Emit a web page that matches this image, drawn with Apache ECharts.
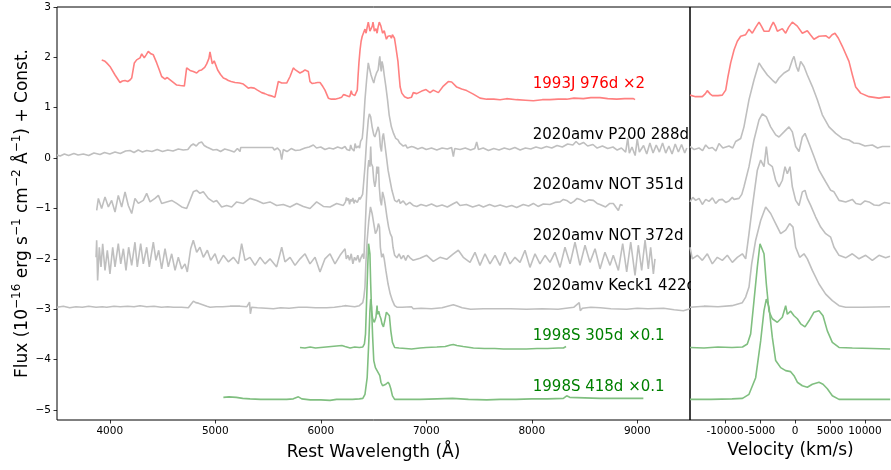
<!DOCTYPE html>
<html>
<head>
<meta charset="utf-8">
<script src="https://cdn.jsdelivr.net/npm/echarts@6/dist/echarts.min.js"></script>
<style>html,body{margin:0;padding:0;background:#fff}#c{width:891px;height:470px}</style>
</head>
<body>
<div id="c"></div>
<script>
// ---- tick labels ----
const waveTicks = [4000, 5000, 6000, 7000, 8000, 9000];
const velTicks = [-10000, -5000, 0, 5000, 10000];
const fluxTicks = [-5, -4, -3, -2, -1, 0, 1, 2, 3];

// ---- spectrum labels ----
const specNames = ['1993J 976d ×2', '2020amv P200 288d', '2020amv NOT 351d', '2020amv NOT 372d', '2020amv Keck1 422d', '1998S 305d ×0.1', '1998S 418d ×0.1'];
const labelWave = [8000, 8000, 8000, 8000, 8000, 8000, 8000];
const labelFlux = [1.5, 0.5, -0.5, -1.5, -2.5, -3.5, -4.5];

// ---- SN 1993J 976d x2 ----
const sn93J_blue = [[3924,1.95],[3950,1.93],[3971,1.89],[4002,1.82],[4050,1.65],[4097,1.50],[4120,1.53],[4145,1.54],[4170,1.52],[4192,1.55],[4208,1.59],[4233,1.89],[4255,1.95],[4270,1.92],[4287,1.99],[4303,2.07],[4327,1.99],[4345,2.05],[4365,2.12],[4390,2.07],[4413,2.05],[4445,1.89],[4470,1.75],[4492,1.62],[4524,1.57],[4545,1.60],[4562,1.63],[4593,1.52],[4635,1.45],[4670,1.44],[4707,1.43],[4729,1.79],[4761,1.74],[4775,1.76],[4792,1.72],[4824,1.69],[4850,1.74],[4871,1.75],[4900,1.80],[4919,1.87],[4940,1.98],[4950,2.11],[4962,1.98],[4972,1.87],[4990,1.93],[5004,1.92],[5023,1.75],[5050,1.66],[5077,1.59],[5100,1.57],[5124,1.54],[5150,1.52],[5187,1.50],[5230,1.49],[5266,1.47],[5290,1.43],[5313,1.39],[5340,1.40],[5370,1.39],[5400,1.35],[5440,1.30],[5470,1.28],[5503,1.25],[5540,1.23],[5566,1.21],[5598,1.52],[5615,1.50],[5630,1.49],[5677,1.49],[5709,1.62],[5740,1.79],[5760,1.75],[5772,1.72],[5803,1.69],[5830,1.72],[5851,1.75],[5882,1.72],[5898,1.52],[5920,1.48],[5946,1.49],[5970,1.50],[5993,1.50],[6020,1.42],[6040,1.35],[6072,1.19],[6100,1.17],[6135,1.17],[6170,1.19],[6199,1.21],[6215,1.26],[6230,1.27]];
const sn93J_vel = [[-15000,1.25],[-14200,1.22],[-13240,1.22],[-12800,1.28],[-12530,1.34],[-12100,1.27],[-11810,1.24],[-11000,1.24],[-10390,1.25],[-9900,1.35],[-9600,1.60],[-9190,1.89],[-8700,2.15],[-8240,2.32],[-7760,2.42],[-7050,2.45],[-6570,2.56],[-6100,2.48],[-5600,2.60],[-5140,2.70],[-4800,2.62],[-4430,2.52],[-3710,2.52],[-3400,2.62],[-3100,2.70],[-2800,2.62],[-2520,2.52],[-1810,2.57],[-1330,2.48],[-900,2.60],[-380,2.70],[330,2.62],[1050,2.48],[1760,2.53],[2200,2.45],[2710,2.36],[3430,2.42],[4380,2.43],[4860,2.38],[5300,2.45],[5710,2.48],[6200,2.38],[6760,2.22],[7710,1.92],[8200,1.65],[8670,1.41],[9380,1.29],[10570,1.22],[12000,1.19],[12800,1.21],[13600,1.21]];
const sn93J_red = [[6877,1.30],[6910,1.28],[6957,1.33],[6998,1.36],[7036,1.30],[7067,1.35],[7115,1.30],[7162,1.43],[7209,1.52],[7241,1.51],[7289,1.41],[7336,1.37],[7383,1.34],[7446,1.27],[7510,1.19],[7573,1.17],[7640,1.17],[7700,1.16],[7762,1.18],[7857,1.16],[7940,1.15],[8015,1.14],[8100,1.16],[8173,1.16],[8250,1.17],[8331,1.17],[8400,1.19],[8489,1.18],[8560,1.20],[8647,1.20],[8720,1.18],[8805,1.17],[8880,1.18],[8963,1.18],[8979,1.16]];

// ---- 2020amv P200 288d ----
const p200_blue = [[3500,0.06],[3530,0.04],[3570,0.08],[3610,0.05],[3660,0.09],[3700,0.06],[3750,0.08],[3800,0.05],[3850,0.10],[3908,0.07],[3950,0.11],[4000,0.08],[4050,0.12],[4100,0.09],[4150,0.14],[4192,0.15],[4230,0.11],[4270,0.16],[4310,0.12],[4350,0.15],[4400,0.13],[4450,0.17],[4500,0.13],[4550,0.16],[4600,0.14],[4650,0.18],[4697,0.16],[4740,0.17],[4770,0.25],[4792,0.28],[4820,0.24],[4845,0.30],[4871,0.32],[4895,0.25],[4919,0.22],[4950,0.19],[4980,0.16],[5014,0.17],[5050,0.13],[5090,0.18],[5140,0.15],[5180,0.12],[5210,0.19],[5235,0.13],[5241,0.21],[5544,0.21],[5560,0.16],[5590,0.20],[5615,0.14],[5630,-0.03],[5645,0.17],[5680,0.13],[5720,0.19],[5760,0.15],[5803,0.16],[5850,0.20],[5890,0.22],[5930,0.26],[5960,0.20],[6000,0.22],[6040,0.17],[6080,0.20],[6119,0.18],[6160,0.22],[6200,0.19],[6230,0.23]];
const p200_vel = [[-15000,0.23],[-14400,0.17],[-13710,0.20],[-13200,0.15],[-12760,0.26],[-12300,0.19],[-11810,0.21],[-11300,0.14],[-10860,0.29],[-10300,0.20],[-9430,0.24],[-8900,0.20],[-8480,0.33],[-7760,0.39],[-7290,0.62],[-6570,1.16],[-5860,1.55],[-5140,1.89],[-4670,1.79],[-3950,1.65],[-3240,1.55],[-2760,1.49],[-2290,1.59],[-1570,1.69],[-860,1.75],[-380,1.95],[-140,2.02],[190,1.82],[480,1.72],[810,1.92],[1290,1.82],[1760,1.65],[2480,1.42],[3190,1.16],[3900,0.86],[4860,0.62],[5810,0.49],[6760,0.39],[7710,0.36],[8400,0.30],[9140,0.29],[10000,0.24],[11050,0.26],[11800,0.20],[12480,0.23],[13600,0.23]];
const p200_red = [[6880,0.22],[6920,0.18],[6960,0.21],[7000,0.17],[7050,0.20],[7100,0.16],[7150,0.20],[7200,0.18],[7240,0.21],[7257,0.03],[7270,0.19],[7320,0.17],[7370,0.20],[7420,0.16],[7460,0.19],[7478,0.32],[7495,0.17],[7540,0.20],[7590,0.15],[7640,0.19],[7690,0.16],[7740,0.20],[7790,0.17],[7840,0.21],[7890,0.16],[7940,0.20],[7990,0.18],[8040,0.22],[8090,0.19],[8140,0.23],[8190,0.20],[8240,0.25],[8290,0.22],[8340,0.28],[8390,0.26],[8420,0.33],[8450,0.27],[8490,0.31],[8530,0.24],[8580,0.27],[8620,0.20],[8670,0.24],[8720,0.19],[8770,0.22],[8810,0.16],[8850,0.20],[8890,0.12],[8910,0.40],[8925,0.10],[8950,0.22],[8980,0.05],[9000,0.38],[9020,0.12],[9060,0.25],[9090,0.08],[9120,0.30],[9150,0.10],[9180,0.26],[9210,0.12],[9240,0.30],[9270,0.10],[9300,0.24],[9330,0.08],[9360,0.28],[9390,0.12],[9420,0.27],[9450,0.10],[9470,0.20]];

// ---- 2020amv NOT 351d ----
const not351_blue = [[3876,-1.04],[3892,-0.80],[3923,-1.00],[3955,-0.77],[3987,-0.97],[4018,-0.84],[4050,-1.07],[4081,-0.74],[4113,-0.97],[4145,-0.67],[4176,-0.94],[4208,-1.10],[4239,-0.80],[4271,-0.90],[4318,-0.84],[4350,-0.70],[4382,-0.87],[4429,-0.80],[4461,-0.74],[4492,-0.90],[4539,-0.87],[4587,-0.84],[4634,-0.90],[4682,-0.97],[4729,-1.00],[4760,-0.84],[4792,-0.67],[4824,-0.64],[4855,-0.70],[4887,-0.67],[4934,-0.80],[4982,-0.87],[5013,-0.84],[5061,-0.97],[5108,-0.94],[5156,-0.97],[5203,-0.87],[5266,-0.90],[5329,-0.80],[5393,-0.84],[5456,-0.90],[5519,-0.87],[5582,-0.94],[5645,-0.92],[5709,-0.97],[5772,-0.90],[5835,-0.96],[5898,-1.00],[5961,-0.87],[6025,-0.96],[6088,-0.97],[6151,-0.90],[6214,-0.94]];
const not351_vel = [[-15000,-0.87],[-14600,-0.78],[-14190,-0.84],[-13700,-0.80],[-13240,-0.92],[-12750,-0.82],[-12290,-0.86],[-11800,-0.79],[-11330,-0.90],[-10850,-0.83],[-10380,-0.82],[-9900,-0.88],[-9430,-0.85],[-8950,-0.78],[-8710,-0.82],[-8000,-0.80],[-7600,-0.72],[-7290,-0.57],[-6570,-0.17],[-5860,0.36],[-5140,0.76],[-4670,0.88],[-4100,0.82],[-3480,0.62],[-2760,0.46],[-2290,0.42],[-1570,0.52],[-860,0.62],[-380,0.52],[95,0.23],[570,0.13],[1050,0.42],[1430,0.49],[2000,0.29],[2710,0.03],[3430,-0.24],[4380,-0.47],[5100,-0.64],[5570,-0.67],[6290,-0.84],[7240,-0.87],[8190,-0.82],[8700,-0.90],[9380,-0.92],[10000,-0.85],[10570,-0.87],[11300,-0.93],[12000,-0.94],[12800,-0.88],[13600,-0.90]];
const not351_red = [[6877,-0.94],[6910,-0.96],[6950,-0.92],[7000,-0.95],[7050,-0.91],[7100,-0.96],[7150,-0.93],[7200,-0.97],[7260,-0.90],[7288,-0.87],[7320,-0.94],[7380,-0.92],[7440,-0.97],[7500,-0.93],[7541,-0.97],[7600,-0.92],[7650,-0.96],[7700,-0.93],[7760,-0.97],[7810,-0.94],[7857,-0.98],[7920,-0.92],[7970,-0.95],[8015,-0.90],[8060,-0.96],[8110,-0.91],[8173,-0.92],[8220,-0.88],[8268,-0.87],[8300,-0.82],[8331,-0.84],[8370,-0.90],[8400,-0.86],[8430,-0.80],[8457,-0.82],[8500,-0.87],[8540,-0.83],[8584,-0.84],[8620,-0.90],[8647,-0.92],[8700,-0.97],[8740,-0.90],[8773,-0.90],[8800,-0.98],[8821,-1.04],[8840,-0.92],[8862,-0.94]];

// ---- 2020amv NOT 372d ----
const not372_blue = [[3870,-1.97],[3876,-1.63],[3885,-2.43],[3901,-1.77],[3917,-2.16],[3933,-1.70],[3955,-2.23],[3977,-1.83],[4002,-2.30],[4028,-1.77],[4050,-2.16],[4081,-1.70],[4104,-2.10],[4129,-1.80],[4154,-2.23],[4179,-1.77],[4208,-2.13],[4239,-1.67],[4261,-2.16],[4293,-1.70],[4318,-2.10],[4350,-1.77],[4375,-2.16],[4413,-1.67],[4438,-2.03],[4464,-1.83],[4492,-2.20],[4524,-1.80],[4555,-2.16],[4587,-1.90],[4619,-2.23],[4650,-1.97],[4682,-2.20],[4713,-2.10],[4735,-2.26],[4767,-1.80],[4792,-1.63],[4824,-1.87],[4855,-1.77],[4887,-1.97],[4925,-1.83],[4957,-2.03],[4998,-1.90],[5029,-2.10],[5077,-1.93],[5124,-2.06],[5172,-1.97],[5219,-2.10],[5250,-1.70],[5282,-2.03],[5329,-1.97],[5377,-2.13],[5424,-1.97],[5472,-2.10],[5519,-2.00],[5582,-2.16],[5630,-1.77],[5661,-2.06],[5709,-1.97],[5756,-2.13],[5804,-2.00],[5851,-1.90],[5898,-2.10],[5946,-1.97],[5993,-2.26],[6040,-2.00],[6088,-1.90],[6135,-2.10],[6183,-1.93],[6230,-1.80]];
const not372_vel = [[-15000,-1.77],[-14667,-2.00],[-13952,-1.93],[-13238,-2.03],[-12524,-1.90],[-11810,-2.10],[-11095,-1.97],[-10381,-2.03],[-9667,-1.93],[-8952,-2.07],[-8238,-1.97],[-7524,-1.90],[-7048,-2.00],[-6571,-1.50],[-6095,-0.97],[-5381,-0.24],[-4905,-0.04],[-4429,-0.17],[-4095,0.23],[-3810,-0.11],[-3238,-0.17],[-2762,-0.44],[-2286,-0.57],[-1810,-0.44],[-1429,-0.17],[-1095,-0.31],[-714,-0.17],[-381,-0.57],[95,-0.84],[571,-0.94],[1048,-0.67],[1429,-0.64],[1762,-0.80],[2238,-0.94],[2952,-1.17],[3667,-1.37],[4381,-1.50],[5095,-1.57],[5571,-1.77],[6286,-1.93],[7238,-1.98],[8190,-1.90],[9143,-2.00],[10095,-1.93],[11048,-2.03],[12000,-1.93],[12952,-1.98],[13571,-1.95]];
const not372_red = [[6877,-2.03],[6941,-1.99],[7004,-1.93],[7067,-2.05],[7130,-1.97],[7193,-2.01],[7257,-1.90],[7304,-1.83],[7351,-1.97],[7415,-2.07],[7462,-1.87],[7509,-2.13],[7557,-1.90],[7604,-2.10],[7652,-1.93],[7699,-2.13],[7746,-1.87],[7794,-2.10],[7841,-1.97],[7889,-2.07],[7936,-1.83],[7983,-2.17],[8031,-1.90],[8078,-2.10],[8126,-1.93],[8173,-2.07],[8220,-1.87],[8268,-2.17],[8315,-1.77],[8363,-2.10],[8410,-1.67],[8457,-2.13],[8505,-1.73],[8552,-2.07],[8600,-1.80],[8647,-2.20],[8694,-1.87],[8742,-2.13],[8773,-1.93],[8821,-2.23],[8862,-1.70],[8900,-2.26],[8938,-1.67],[8979,-2.33],[9010,-1.73],[9042,-2.23],[9074,-1.63],[9105,-2.20],[9127,-1.77],[9153,-2.30],[9168,-2.00]];

// ---- 2020amv Keck1 422d ----
const keck_blue = [[3500,-2.96],[3560,-2.94],[3620,-2.97],[3680,-2.95],[3740,-2.96],[3800,-2.94],[3870,-2.96],[3930,-2.95],[3971,-2.96],[4040,-2.94],[4100,-2.95],[4170,-2.94],[4230,-2.95],[4287,-2.93],[4350,-2.95],[4420,-2.94],[4490,-2.96],[4550,-2.95],[4603,-2.96],[4680,-2.96],[4745,-2.97],[4770,-2.90],[4793,-2.84],[4815,-2.87],[4840,-2.88],[4880,-2.91],[4920,-2.94],[4951,-2.96],[5010,-2.95],[5070,-2.95],[5140,-2.94],[5235,-2.94],[5300,-2.95],[5325,-2.86],[5333,-3.09],[5345,-2.96],[5400,-2.97],[5480,-2.98],[5551,-2.99],[5620,-2.97],[5700,-2.98],[5790,-2.96],[5867,-2.96],[5950,-2.97],[6057,-2.97],[6130,-2.96],[6200,-2.94],[6230,-2.93]];
const keck_vel = [[-15000,-2.96],[-13000,-2.94],[-11000,-2.95],[-9000,-2.93],[-7524,-2.87],[-7048,-2.76],[-6571,-2.56],[-6190,-2.10],[-5619,-1.63],[-4905,-1.24],[-4190,-0.97],[-3476,-1.10],[-2762,-1.30],[-2048,-1.50],[-1333,-1.43],[-762,-1.30],[-286,-1.37],[95,-1.77],[667,-1.97],[1286,-1.90],[1762,-2.00],[2476,-2.23],[3429,-2.50],[4381,-2.70],[5333,-2.83],[6286,-2.93],[7238,-2.96],[9600,-2.96],[13571,-2.95]];
const keck_red = [[6877,-2.99],[6950,-2.98],[7050,-2.99],[7150,-2.97],[7220,-2.93],[7257,-2.91],[7300,-2.94],[7340,-2.97],[7420,-3.00],[7540,-2.99],[7650,-2.99],[7800,-2.99],[7950,-3.00],[8100,-2.99],[8250,-3.00],[8400,-2.96],[8450,-2.87],[8460,-3.03],[8480,-2.98],[8560,-2.96],[8650,-2.97],[8750,-2.99],[8900,-3.00],[9000,-2.98],[9100,-2.99],[9250,-2.98],[9350,-3.01],[9437,-3.03],[9500,-2.99]];

// ---- 1998S 305d x0.1 ----
const s305_blue = [[5803,-3.76],[5850,-3.77],[5900,-3.75],[5950,-3.77],[6000,-3.76],[6050,-3.75],[6100,-3.74],[6150,-3.73],[6200,-3.72],[6230,-3.74]];
const s305_vel = [[-15000,-3.76],[-13000,-3.77],[-11000,-3.75],[-9000,-3.76],[-7500,-3.75],[-6810,-3.69],[-6333,-3.49],[-5857,-2.83],[-5381,-2.16],[-5000,-1.70],[-4762,-1.67],[-4429,-1.90],[-4095,-2.50],[-3714,-3.04],[-3238,-3.19],[-2524,-3.26],[-1810,-3.16],[-1333,-2.93],[-1095,-3.10],[-619,-3.04],[-143,-3.13],[333,-3.19],[810,-3.29],[1429,-3.35],[2000,-3.23],[2714,-3.06],[3429,-3.03],[4000,-3.13],[4619,-3.43],[5333,-3.66],[6286,-3.76],[8190,-3.77],[11000,-3.78],[13600,-3.79]];
const s305_red = [[6877,-3.76],[6941,-3.77],[7000,-3.76],[7100,-3.75],[7180,-3.74],[7230,-3.71],[7257,-3.70],[7290,-3.72],[7350,-3.74],[7447,-3.77],[7550,-3.78],[7650,-3.78],[7731,-3.79],[7850,-3.79],[7950,-3.79],[8050,-3.78],[8150,-3.78],[8250,-3.77],[8300,-3.77],[8325,-3.74]];

// ---- 1998S 418d x0.1 ----
const s418_blue = [[5077,-4.75],[5130,-4.74],[5200,-4.75],[5260,-4.77],[5330,-4.78],[5430,-4.79],[5550,-4.79],[5677,-4.79],[5740,-4.78],[5788,-4.74],[5820,-4.78],[5900,-4.80],[6000,-4.80],[6088,-4.81],[6150,-4.79],[6230,-4.79]];
const s418_vel = [[-15000,-4.79],[-12000,-4.79],[-9000,-4.78],[-7500,-4.77],[-6571,-4.69],[-5619,-4.36],[-4905,-3.63],[-4429,-3.03],[-4095,-2.80],[-3714,-2.96],[-3238,-3.56],[-2762,-4.02],[-2048,-4.16],[-1333,-4.22],[-619,-4.24],[-143,-4.32],[333,-4.45],[1048,-4.52],[1762,-4.55],[2476,-4.49],[3429,-4.45],[4000,-4.49],[4619,-4.58],[5333,-4.72],[6286,-4.79],[9000,-4.79],[13600,-4.79]];
const s418_red = [[6877,-4.79],[6941,-4.79],[7100,-4.78],[7250,-4.77],[7400,-4.79],[7573,-4.80],[7700,-4.79],[7850,-4.79],[8000,-4.78],[8150,-4.78],[8300,-4.77],[8331,-4.72],[8360,-4.75],[8500,-4.76],[8650,-4.77],[8800,-4.77],[8950,-4.77],[9058,-4.77]];

// ---- build ----
const C_KMS = 299792.458, HALPHA = 6563;
function velToWave(arr) { return arr.map(p => [HALPHA * (1 + p[0] / C_KMS), p[1]]); }
const FONT = 'DejaVu Sans';
const RED = '#ff8080', GRAY = '#bfbfbf', GREEN = '#80bf80';
const spectra = [
  [sn93J_blue, sn93J_vel, sn93J_red, RED],
  [p200_blue, p200_vel, p200_red, GRAY],
  [not351_blue, not351_vel, not351_red, GRAY],
  [not372_blue, not372_vel, not372_red, GRAY],
  [keck_blue, keck_vel, keck_red, GRAY],
  [s305_blue, s305_vel, s305_red, GREEN],
  [s418_blue, s418_vel, s418_red, GREEN]
];
const labelColors = ['#ff0000', '#000000', '#000000', '#000000', '#000000', '#008000', '#008000'];

const series = [];
spectra.forEach(s => {
  series.push({type: 'line', xAxisIndex: 0, yAxisIndex: 0, data: s[0].concat(velToWave(s[1]), s[2]),
    showSymbol: false, lineStyle: {color: s[3], width: 1.6}, itemStyle: {color: s[3]}, z: 2, silent: true});
  series.push({type: 'line', xAxisIndex: 1, yAxisIndex: 1, data: s[1],
    showSymbol: false, lineStyle: {color: s[3], width: 1.6}, itemStyle: {color: s[3]}, z: 10, silent: true});
});
series.push({type: 'scatter', xAxisIndex: 0, yAxisIndex: 0, symbolSize: 0, z: 3, silent: true,
  itemStyle: {opacity: 1},
  data: specNames.map((n, i) => ({name: n, value: [labelWave[i], labelFlux[i]],
    label: {show: true, position: 'right', distance: 0, offset: [1, 2], formatter: '{b}', color: labelColors[i], opacity: 1, fontSize: 15, fontFamily: FONT}}))});

const tickStyle = {show: true, inside: false, length: 3.5, lineStyle: {color: '#000', width: 0.8}};
const plainNum = v => String(v);
const option = {
  animation: false,
  backgroundColor: '#fff',
  grid: [
    {left: 57, top: 7, width: 633, height: 413, show: true, borderColor: '#000', borderWidth: 1, backgroundColor: 'transparent', containLabel: false, outerBoundsMode: 'none'},
    {left: 690, top: 7, width: 210, height: 413, show: true, borderColor: '#000', borderWidth: 1, backgroundColor: 'transparent', containLabel: false, outerBoundsMode: 'none'}
  ],
  xAxis: [
    {type: 'value', gridIndex: 0, min: 3500, max: 9500, position: 'bottom',
      axisLine: {show: false, onZero: false}, splitLine: {show: false},
      axisTick: Object.assign({}, tickStyle, {customValues: waveTicks}),
      axisLabel: {customValues: waveTicks, interval: 0, hideOverlap: false, formatter: plainNum, fontSize: 10.5, fontFamily: FONT, color: '#000', margin: 6},
      name: 'Rest Wavelength (Å)', nameLocation: 'middle', nameGap: 24, nameMoveOverlap: false,
      nameTextStyle: {fontSize: 17, fontFamily: FONT, color: '#000'}},
    {type: 'value', gridIndex: 1, min: -15000, max: 15000, position: 'bottom',
      axisLine: {show: false, onZero: false}, splitLine: {show: false},
      axisTick: Object.assign({}, tickStyle, {customValues: velTicks}),
      axisLabel: {customValues: velTicks, interval: 0, hideOverlap: false, formatter: plainNum, fontSize: 10.5, fontFamily: FONT, color: '#000', margin: 6},
      name: 'Velocity (km/s)', nameLocation: 'middle', nameGap: 22, nameMoveOverlap: false,
      nameTextStyle: {fontSize: 17, fontFamily: FONT, color: '#000', padding: [0, 9, 0, 0]}}
  ],
  yAxis: [
    {type: 'value', gridIndex: 0, min: -5.2, max: 3, position: 'left',
      axisLine: {show: false, onZero: false}, splitLine: {show: false},
      axisTick: Object.assign({}, tickStyle, {customValues: fluxTicks}),
      axisLabel: {customValues: fluxTicks, interval: 0, hideOverlap: false, fontSize: 10.5, fontFamily: FONT, color: '#000', margin: 6,
        formatter: v => String(v).replace('-', '\u2212')},
      name: 'Flux (10{s|\u221216} erg s{s|\u22121} cm{s|\u22122} Å{s|\u22121}) + Const.', nameLocation: 'middle', nameGap: 22, nameMoveOverlap: false,
      nameTextStyle: {fontSize: 17, fontFamily: FONT, color: '#000', lineHeight: 24,
        rich: {s: {fontSize: 12, fontFamily: FONT, color: '#000', lineHeight: 14, verticalAlign: 'top'}}}},
    {type: 'value', gridIndex: 1, min: -5.2, max: 3, position: 'left',
      axisLine: {show: false, onZero: false}, splitLine: {show: false},
      axisTick: {show: false}, axisLabel: {show: false}}
  ],
  graphic: [
    {type: 'rect', shape: {x: 691, y: 8, width: 200, height: 411}, style: {fill: '#fff'}, z: 5, silent: true}
  ],
  series: series
};
const chart = echarts.init(document.getElementById('c'), null, {renderer: 'canvas'});
chart.setOption(option);
</script>
</body>
</html>
